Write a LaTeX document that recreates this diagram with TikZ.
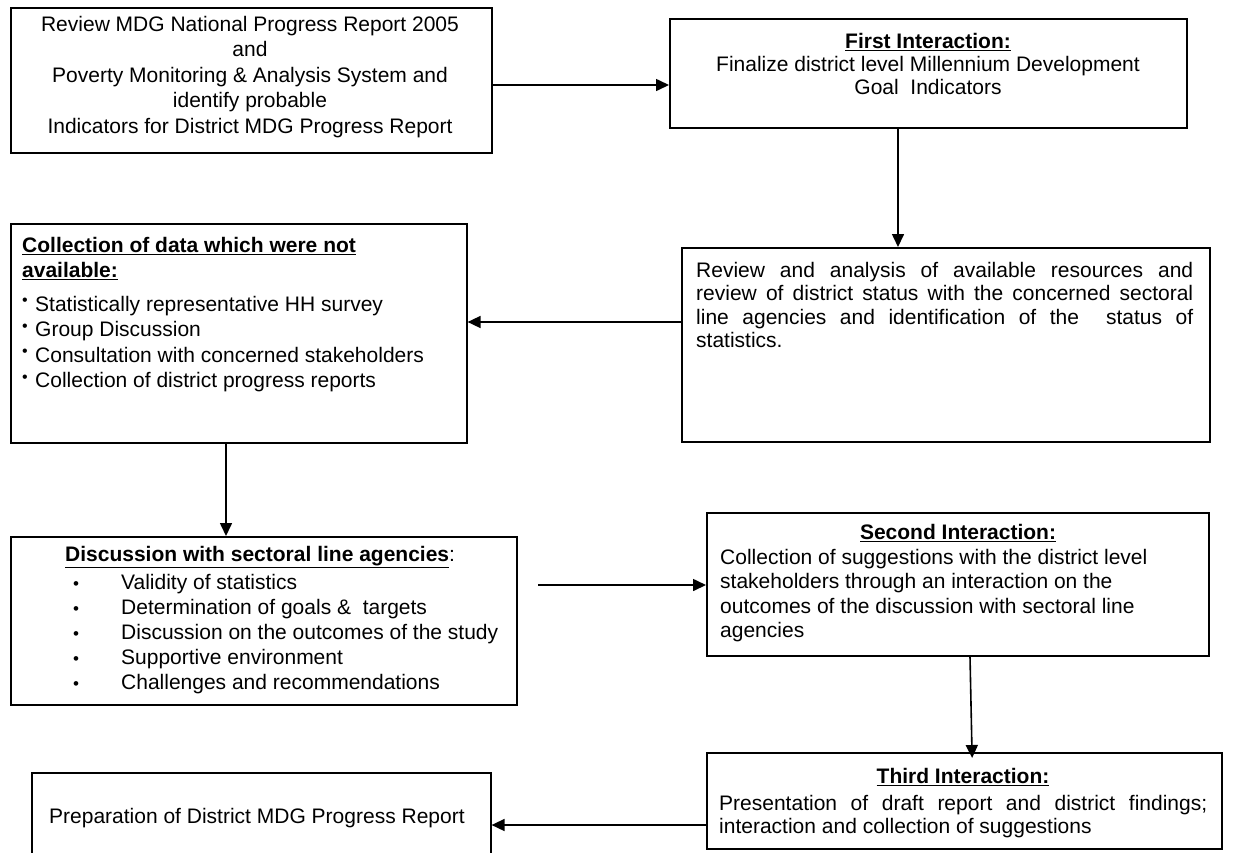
\documentclass[tikz,border=0pt]{standalone}
\usepackage{fontspec}
\setmainfont{Liberation Sans}
\usetikzlibrary{arrows.meta}
\newcommand\smallbul{\makebox[13pt][l]{\raisebox{0.5ex}{\fontsize{16}{16}\selectfont\textbullet}}}
\newcommand\listbul{\makebox[48pt][l]{\fontsize{17}{17}\selectfont\textbullet}}
\begin{document}
\begin{tikzpicture}[x=1pt,y=-1pt,
  box/.style={draw, line width=1.6pt, inner sep=0pt, anchor=north west},
  txt/.style={inner sep=0pt, font=\fontsize{21}{25}\selectfont},
  arr/.style={line width=1.6pt, -{Triangle[length=13pt,width=12pt]}}]
\useasboundingbox (0,0) rectangle (1236,852);
\clip (0,0) rectangle (1236,852);

% boxes
\node[box, minimum width=481pt, minimum height=145pt] (A) at (10,7) {};
\node[box, minimum width=517pt, minimum height=109pt] (B) at (669,18) {};
\node[box, minimum width=456pt, minimum height=219pt] (C) at (10,223) {};
\node[box, minimum width=528pt, minimum height=194pt] (D) at (681,247) {};
\node[box, minimum width=502pt, minimum height=143pt] (F) at (706,512) {};
\node[box, minimum width=506pt, minimum height=168pt] (E) at (10,536) {};
\node[box, minimum width=515pt, minimum height=96pt] (G) at (706,752) {};
\node[box, minimum width=459pt, minimum height=96pt] (H) at (31,772) {};

% texts
\node[txt, align=center, font=\fontsize{21}{25.5}\selectfont] (At) at (250,77)
  {Review MDG National Progress Report 2005\\and\\Poverty Monitoring \& Analysis System and\\identify probable\\Indicators for District MDG Progress Report};

\node[txt, align=center, font=\fontsize{21}{23}\selectfont] (Bt) at (928,64)
  {\underline{\textbf{First Interaction:}}\\Finalize district level Millennium Development\\Goal\ \ Indicators};

\node[txt, align=left, anchor=north west, font=\fontsize{21}{25.5}\selectfont] (Ct) at (22,237)
  {\underline{\textbf{Collection of data which were not}}\\
   \underline{\textbf{available:}}\\[8pt]
   \smallbul Statistically representative HH survey\\
   \smallbul Group Discussion\\
   \smallbul Consultation with concerned stakeholders\\
   \smallbul Collection of district progress reports};

\node[txt, align=left, anchor=north west, font=\fontsize{21}{23.5}\selectfont] (Dt) at (696,262)
  {\makebox[497pt][s]{Review and analysis of available resources and}\\
   \makebox[497pt][s]{review of district status with the concerned sectoral}\\
   \makebox[497pt][s]{line agencies and identification of the\ \ status of}\\
   statistics.};

\node[txt, anchor=west] (Et) at (65,557)
  {\underline{\textbf{Discussion with sectoral line agencies}}:};
\node[txt, align=left, anchor=north west] (El) at (73,574)
  {\listbul Validity of statistics\\
   \listbul Determination of goals \&\ \ targets\\
   \listbul Discussion on the outcomes of the study\\
   \listbul Supportive environment\\
   \listbul Challenges and recommendations};

\node[txt] (Ft) at (958,533) {\underline{\textbf{Second Interaction:}}};
\node[txt, align=left, anchor=north west, font=\fontsize{21}{24.3}\selectfont] (Fl) at (720,549)
  {Collection of suggestions with the district level\\
   stakeholders through an interaction on the\\
   outcomes of the discussion with sectoral line\\
   agencies};

\node[txt] (Gt) at (963,777) {\underline{\textbf{Third Interaction:}}};
\node[txt, align=left, anchor=north west, font=\fontsize{21}{23.5}\selectfont] (Gl) at (719,795)
  {\makebox[488pt][s]{Presentation of draft report and district findings;}\\
   interaction and collection of suggestions};

\node[txt, anchor=west] (Ht) at (49,818) {Preparation of District MDG Progress Report};

% connectors
\coordinate (yAB) at (0,85);
\draw[arr] (A.east |- yAB) -- (B.west |- yAB);
\coordinate (xBD) at (898,0);
\draw[arr] (B.south -| xBD) -- (D.north -| xBD);
\coordinate (yDC) at (0,322);
\draw[arr] (D.west |- yDC) -- (C.east |- yDC);
\coordinate (xCE) at (226,0);
\draw[arr] (C.south -| xCE) -- (E.north -| xCE);
\coordinate (EFs) at (538,585);
\draw[arr] (EFs) -- (F.west |- EFs);
\coordinate (xF) at (970,0);
\coordinate (xG) at (972,0);
\draw[arr, shorten >=-6pt] (F.south -| xF) -- (G.north -| xG);
\coordinate (yGH) at (0,825);
\draw[arr] (G.west |- yGH) -- (H.east |- yGH);
\end{tikzpicture}
\end{document}
